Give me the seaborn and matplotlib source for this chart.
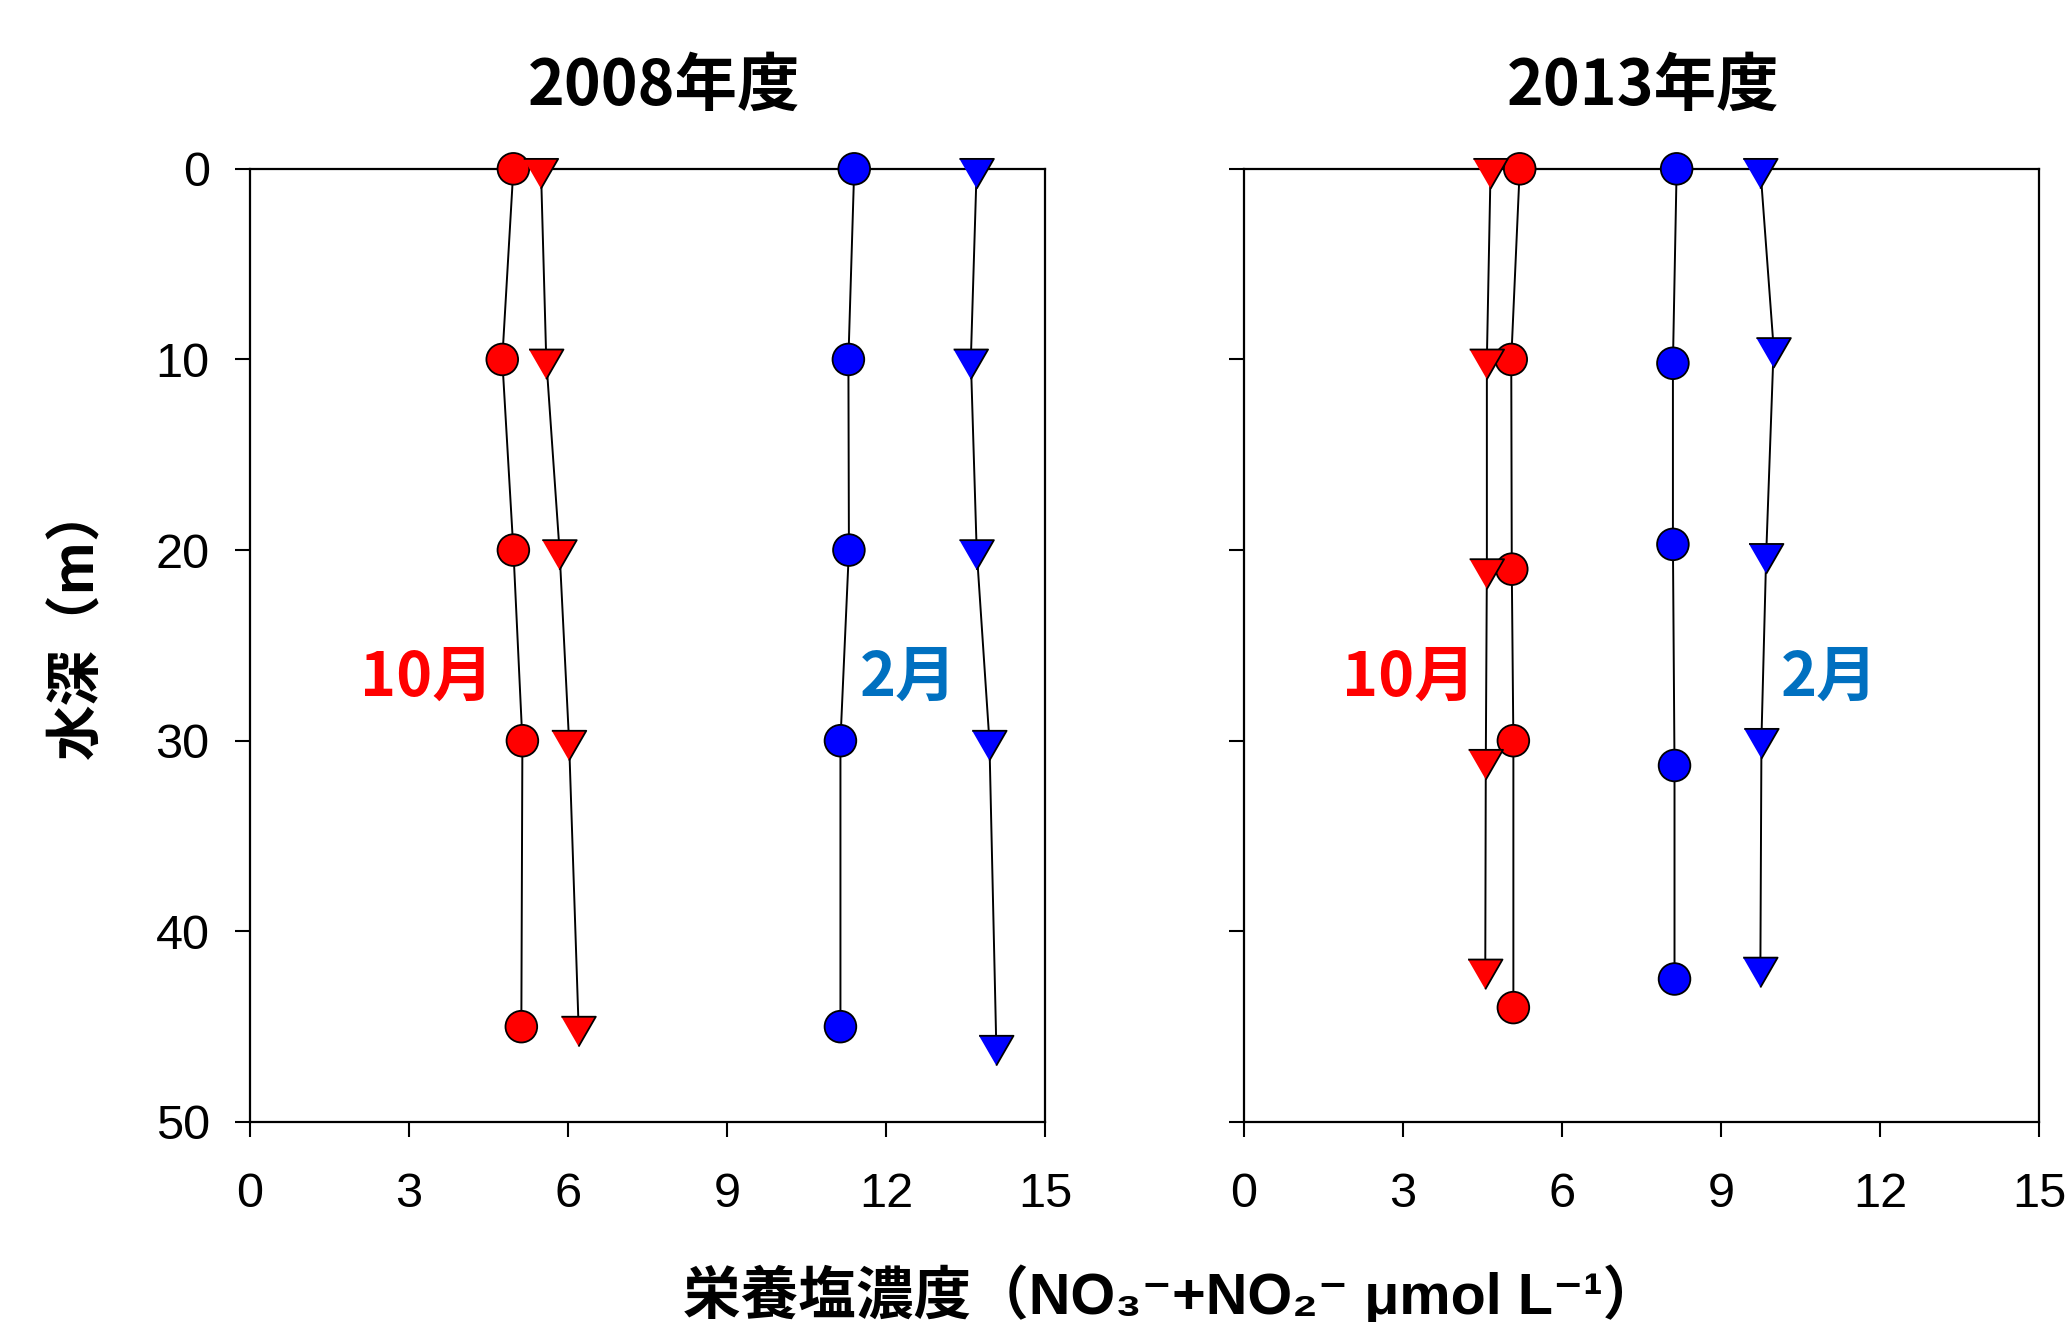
import matplotlib
matplotlib.use("Agg")
import matplotlib.pyplot as plt
from matplotlib.markers import MarkerStyle
import pandas as pd
import seaborn as sns

# ---- データ ----
years = ["2008年度", "2013年度"]
months = ["10月", "2月"]

# 2008年度
oct_circ_depth_2008 = [0, 10, 20, 30, 45]
oct_circ_2008 = [4.97, 4.76, 4.97, 5.14, 5.12]
oct_tri_depth_2008 = [0, 10, 20, 30, 45]
oct_tri_2008 = [5.49, 5.59, 5.84, 6.02, 6.20]
feb_circ_depth_2008 = [0, 10, 20, 30, 45]
feb_circ_2008 = [11.40, 11.29, 11.30, 11.14, 11.14]
feb_tri_depth_2008 = [0, 10, 20, 30, 46]
feb_tri_2008 = [13.71, 13.60, 13.71, 13.95, 14.08]

# 2013年度
oct_circ_depth_2013 = [0, 10, 21, 30, 44]
oct_circ_2013 = [5.20, 5.04, 5.05, 5.08, 5.08]
oct_tri_depth_2013 = [0, 10, 21, 31, 42]
oct_tri_2013 = [4.65, 4.58, 4.58, 4.56, 4.55]
feb_circ_depth_2013 = [0, 10.2, 19.7, 31.3, 42.5]
feb_circ_2013 = [8.16, 8.09, 8.09, 8.12, 8.12]
feb_tri_depth_2013 = [0, 9.4, 20.2, 29.9, 41.9]
feb_tri_2013 = [9.74, 9.99, 9.85, 9.76, 9.74]

x_ticks = [0, 3, 6, 9, 12, 15]
y_ticks = [0, 10, 20, 30, 40, 50]

series = [
    ("2008年度", "10月", "circle", oct_circ_depth_2008, oct_circ_2008),
    ("2008年度", "10月", "tri", oct_tri_depth_2008, oct_tri_2008),
    ("2008年度", "2月", "circle", feb_circ_depth_2008, feb_circ_2008),
    ("2008年度", "2月", "tri", feb_tri_depth_2008, feb_tri_2008),
    ("2013年度", "10月", "circle", oct_circ_depth_2013, oct_circ_2013),
    ("2013年度", "10月", "tri", oct_tri_depth_2013, oct_tri_2013),
    ("2013年度", "2月", "circle", feb_circ_depth_2013, feb_circ_2013),
    ("2013年度", "2月", "tri", feb_tri_depth_2013, feb_tri_2013),
]
rows = []
for yr, mon, kind, depths, concs in series:
    for d, c in zip(depths, concs):
        rows.append({"year": yr, "month": mon, "kind": kind,
                     "series": f"{mon}-{kind}", "depth": d, "conc": c})
df = pd.DataFrame(rows)

# ---- スタイル ----
sns.set_style("ticks")
plt.rcParams["font.family"] = ["Liberation Sans", "Noto Sans CJK JP", "DejaVu Sans"]
plt.rcParams["text.color"] = "black"
plt.rcParams["axes.labelcolor"] = "black"
CJK = ["Noto Sans CJK JP", "DejaVu Sans"]

marker_colors = {"10月": "#FF0000", "2月": "#0000FF"}
label_colors = {"10月": "#FF0000", "2月": "#0070C0"}
# 重心が原点に来る下向き三角
tri_marker = MarkerStyle([(-1, 0.577), (1, 0.577), (0, -1.155)])
markers = {"circle": ("o", 520), "tri": (tri_marker, 820)}

title_x = {"2008年度": 0.521, "2013年度": 0.502}
month_pos = {
    "2008年度": {"10月": (3.34, 26.7), "2月": (12.42, 26.7)},
    "2013年度": {"10月": (3.11, 26.7), "2月": (11.04, 26.7)},
}

fig = plt.figure(figsize=(20.69, 13.22), dpi=100)
axes = [fig.add_axes([0.1208, 0.1513, 0.3843, 0.721]),
        fig.add_axes([0.6013, 0.1513, 0.3843, 0.721])]

for ax, yr in zip(axes, years):
    sub = df[df["year"] == yr]
    sns.lineplot(data=sub, x="conc", y="depth", units="series", estimator=None,
                 orient="y", sort=False, color="black", linewidth=1.4,
                 legend=False, ax=ax)
    for kind, (mk, size) in markers.items():
        sns.scatterplot(data=sub[sub["kind"] == kind], x="conc", y="depth",
                        hue="month", palette=marker_colors, marker=mk, s=size,
                        edgecolor="black", linewidth=1.3, zorder=3,
                        clip_on=False, legend=False, ax=ax)

    ax.set_xlim(0, 15)
    ax.set_ylim(50, 0)
    ax.set_xticks(x_ticks)
    ax.set_yticks(y_ticks)
    ax.set_xlabel("")
    ax.set_ylabel("")
    for sp in ax.spines.values():
        sp.set_linewidth(1.6)
        sp.set_color("black")
    ax.tick_params(axis="both", direction="out", length=11, width=1.5,
                   labelsize=35, colors="black")
    ax.tick_params(axis="x", pad=25)
    ax.tick_params(axis="y", pad=18)

    ax.set_title(yr, x=title_x[yr], y=1.078, va="center", fontsize=45,
                 fontweight="bold", family=CJK, color="black")
    for mon in months:
        mx, my = month_pos[yr][mon]
        ax.text(mx, my, mon, color=label_colors[mon], fontsize=44,
                fontweight="bold", family=CJK, ha="center", va="center")

axes[1].tick_params(axis="y", labelleft=False)

fig.text(77 / 2069, 1 - 621 / 1322, "水深（m）", rotation=90, fontsize=40,
         fontweight="bold", family=CJK, ha="center", va="center")
fig.text(1172 / 2069, 1 - 1295 / 1322, "栄養塩濃度（NO₃⁻+NO₂⁻ μmol L⁻¹）",
         fontsize=41.5, fontweight="bold", ha="center", va="center")

fig.savefig("out.png", dpi=100)
